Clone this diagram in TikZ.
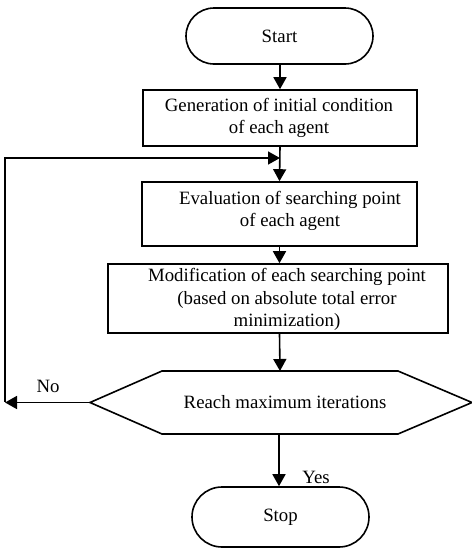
\documentclass[tikz,border=0pt]{standalone}
\usepackage{fontspec}
\setmainfont{Liberation Serif}
\usetikzlibrary{arrows.meta,shapes.misc}
\tikzset{
  lw/.style={line width=1.6pt},
  term/.style={lw,draw,rounded rectangle,inner sep=0pt},
  procbox/.style={lw,draw,rectangle,inner sep=0pt},
  txt/.style={align=center,inner sep=0pt,font=\fontsize{18.8}{22.5}\selectfont},
  arr/.style={lw,-{Triangle[length=12pt,width=13pt]}},
  conn/.style={lw}
}
\begin{document}
\begin{tikzpicture}[x=1pt,y=-1pt]
\useasboundingbox (0,0) rectangle (472,550);
% terminals and boxes
\node[term,minimum width=187pt,minimum height=56pt] (start) at (279.5,36) {};
\node[txt] (starttxt) at (279.5,36) {Start};
\node[procbox,minimum width=274pt,minimum height=56pt] (gen) at (280,118) {};
\node[txt] (gentxt) at (279,118) {Generation of initial condition\\of each agent};
\node[procbox,minimum width=275pt,minimum height=64pt] (eval) at (279.5,214) {};
\node[txt] (evaltxt) at (290,211) {Evaluation of searching point\\of each agent};
\node[procbox,minimum width=340pt,minimum height=69pt] (mod) at (278,298.5) {};
\node[txt] (modtxt) at (287,299.5) {Modification of each searching point\\(based on absolute total error\\minimization)};
% decision hexagon
\coordinate (decL) at (90,402.5);
\coordinate (decTL) at (162,371);
\coordinate (decTR) at (398,371);
\coordinate (decR) at (472,402.5);
\coordinate (decBR) at (398,434);
\coordinate (decBL) at (162,434);
\coordinate (decT) at (280,371);
\coordinate (decB) at (279,434);
\draw[lw,line join=miter] (decL) -- (decTL) -- (decTR) -- (decR) -- (decBR) -- (decBL) -- cycle;
\node[txt] (dec) at (285,402.5) {Reach maximum iterations};
\node[term,minimum width=177pt,minimum height=60pt] (stop) at (280.5,517) {};
\node[txt] (stoptxt) at (280.5,517) {Stop};
% connectors
\coordinate (merge) at (280,158);
\coordinate (loopB) at (5,402.5);
\coordinate (loopT) at (5,158);
\draw[arr] (start.south -| gen.north) -- (gen.north);
\draw[arr] (gen.south) -- (eval.north);
\draw[arr] (eval.south) -- (eval.south |- mod.north);
\draw[arr] (eval.south |- mod.south) -- (decT);
\draw[arr] (decB) -- (decB |- stop.north);
\draw[arr] (decL) -- (loopB);
\draw[conn] ([yshift=0.8pt]loopB) -- ([yshift=-0.8pt]loopT);
\draw[arr] ([xshift=-0.8pt]loopT) -- (merge);
% labels
\node[txt] (nolbl) at (48,386) {No};
\node[txt] (yeslbl) at (316,477) {Yes};
\end{tikzpicture}
\end{document}
